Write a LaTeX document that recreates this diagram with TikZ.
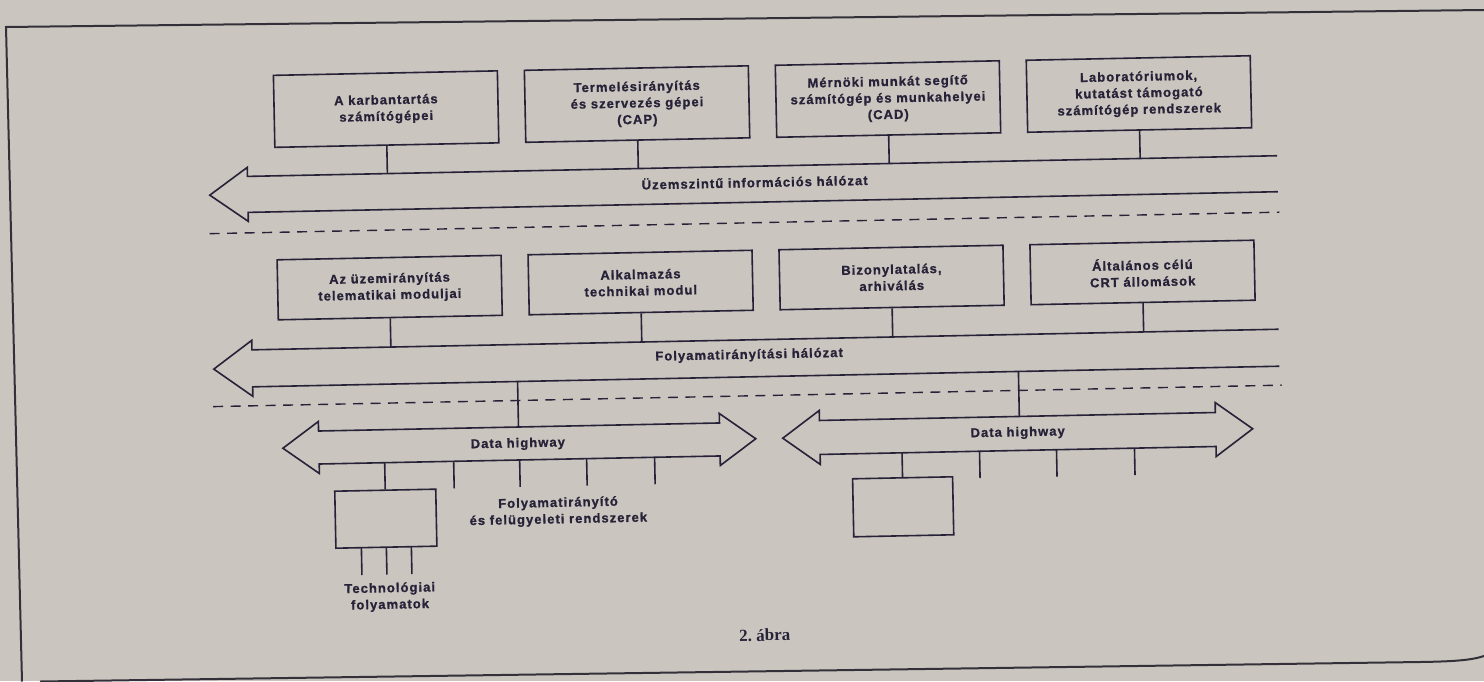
\documentclass[tikz,border=0pt]{standalone}
\usepackage{fontspec}
\newfontfamily\labelfont{Liberation Sans Bold}[LetterSpace=8,FakeBold=1]
\newfontfamily\captionserif{Liberation Serif}
\newcommand\diaglbl{\labelfont\fontsize{13pt}{16.5pt}\selectfont}
\definecolor{paper}{RGB}{202,197,191}
\definecolor{ink}{RGB}{40,34,56}
\definecolor{frameink}{RGB}{52,48,58}

\begin{document}
\begin{tikzpicture}[x=1pt,y=-1pt,
  inkline/.style={draw=ink,line width=1.6pt},
  unitbox/.style={inkline,inner sep=0pt,align=center,text=ink,font=\diaglbl,minimum width=224pt},
  rowonebox/.style={unitbox,minimum height=72pt},
  rowtwobox/.style={unitbox,minimum height=60pt},
  fieldbox/.style={inkline,inner sep=0pt,minimum width=101pt,minimum height=57pt},
  bus/.style={inkline,line join=miter},
  buslabel/.style={text=ink,font=\diaglbl,inner sep=0pt,align=center},
  levelsep/.style={draw=ink,line width=1.4pt,dash pattern=on 10pt off 7.5pt},
  framerule/.style={draw=frameink,line width=2pt}
]
\fill[paper] (0,0) rectangle (1484,681);
\useasboundingbox (0,0) rectangle (1484,681);

% page frame
\draw[framerule] (22,681.5) -- (6,27) -- (1484,10);
\draw[framerule] (40,681.5) -- (1420,662) .. controls (1455,661.5) and (1472,660) .. (1484,656);

\begin{scope}[rotate around={1.15:(742,350)},transform shape]

% ---- plant level ----
\node[rowonebox] (m1) at (391,102) {A karbantartás\\számítógépei};
\node[rowonebox] (m2) at (642,102) {Termelésirányítás\\és szervezés gépei\\(CAP)};
\node[rowonebox] (m3) at (893,102) {Mérnöki munkát segítő\\számítógép és munkahelyei\\(CAD)};
\node[rowonebox] (m4) at (1144,102) {Laboratóriumok,\\kutatást támogató\\számítógép rendszerek};

% plant information network (open-ended bus)
\draw[bus] (1281,166.5) -- (251,166.5) -- (251,157.5) -- (213,184.5)
           -- (251,211.5) -- (251,202.5) -- (1281,202.5);
\node[buslabel] (n1) at (758,182) {Üzemszintű információs hálózat};
\foreach \i/\x in {1/391,2/642,3/893,4/1144}
  \coordinate (p\i) at (\x,166.5);
\foreach \i in {1,...,4}
  \draw[inkline] (m\i.south) -- (p\i);

\coordinate (s1a) at (212,223);
\coordinate (s1b) at (1282,223);
\draw[levelsep] (s1a) -- (s1b);

% ---- process control level ----
\node[rowtwobox] (k1) at (391,280.5) {Az üzemirányítás\\telematikai moduljai};
\node[rowtwobox] (k2) at (642,280.5) {Alkalmazás\\technikai modul};
\node[rowtwobox] (k3) at (893,280.5) {Bizonylatalás,\\arhiválás};
\node[rowtwobox] (k4) at (1144,280.5) {Általános célú\\CRT állomások};

\draw[bus] (1279,340) -- (252,340) -- (252,330.5) -- (213.5,358.5)
           -- (252,386.5) -- (252,377) -- (1279,377);
\node[buslabel] (n2) at (749,355.5) {Folyamatirányítási hálózat};
\foreach \i/\x in {1/391,2/642,3/893,4/1144}
  \coordinate (q\i) at (\x,340);
\foreach \i in {1,...,4}
  \draw[inkline] (k\i.south) -- (q\i);

\coordinate (s2a) at (212,396);
\coordinate (s2b) at (1281,396);
\draw[levelsep] (s2a) -- (s2b);

% ---- data highways ----
\draw[bus] (317,422.5) -- (718,422.5) -- (718,413) -- (754,439) -- (718,465)
           -- (718,455.5) -- (317,455.5) -- (317,465) -- (281,439) -- (317,413) -- cycle;
\node[buslabel] (h1) at (516,439.5) {Data highway};

\draw[bus] (818,422) -- (1214,422) -- (1214,412) -- (1251,439) -- (1214,466)
           -- (1214,456) -- (818,456) -- (818,466) -- (781,439) -- (818,412) -- cycle;
\node[buslabel] (h2) at (1016,438.5) {Data highway};

% links from the process network down to the highways
\coordinate (d1top) at (517,377);
\coordinate (d1bot) at (517,422.5);
\coordinate (d2top) at (1018,377);
\coordinate (d2bot) at (1018,422);
\draw[inkline] (d1top) -- (d1bot);
\draw[inkline] (d2top) -- (d2bot);

% stations on the first highway
\node[fieldbox] (f1) at (382.5,511.5) {};
\coordinate (f1up) at (382.5,455.5);
\draw[inkline] (f1up) -- (f1.north);
\foreach \j/\x in {1/451.5,2/517.5,3/584.5,4/652.5}{
  \coordinate (ta\j) at (\x,455.5);
  \coordinate (tb\j) at (\x,482.5);
  \draw[inkline] (ta\j) -- (tb\j);
}
\foreach \j/\x in {1/357.5,2/382.5,3/407.5}{
  \coordinate (fa\j) at (\x,540);
  \coordinate (fb\j) at (\x,567.5);
  \draw[inkline] (fa\j) -- (fb\j);
}
\node[buslabel] (tech) at (385,590) {Technológiai\\folyamatok};
\node[buslabel] (ctrl) at (555,508) {Folyamatirányító\\és felügyeleti rendszerek};

% stations on the second highway
\node[fieldbox,minimum width=100pt,minimum height=58pt] (f2) at (900,510) {};
\coordinate (f2up) at (900,456);
\draw[inkline] (f2up) -- (f2.north);
\foreach \j/\x in {1/977.5,2/1054.5,3/1132.5}{
  \coordinate (ua\j) at (\x,456);
  \coordinate (ub\j) at (\x,483);
  \draw[inkline] (ua\j) -- (ub\j);
}

\node[text=ink,font=\captionserif\bfseries\fontsize{17pt}{18pt}\selectfont,inner sep=0pt] (cap) at (759,635.5) {2.\ ábra};
\end{scope}
\end{tikzpicture}
\end{document}
